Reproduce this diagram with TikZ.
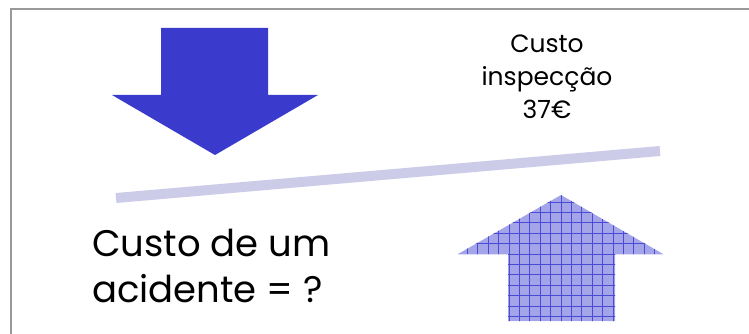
\documentclass[tikz,border=0pt]{standalone}
\usepackage{fontspec}
\setmainfont{Poppins}
\definecolor{darkarrow}{HTML}{3A3ACC}
\definecolor{lightarrow}{HTML}{A4A4E8}
\definecolor{gridline}{HTML}{4A4AD6}
\definecolor{barcol}{HTML}{CCCCE8}
\definecolor{framecol}{HTML}{999999}
\tikzset{
  frameline/.style={draw=framecol, line width=2pt},
  bigtext/.style={font=\fontsize{37}{46}\selectfont, align=left, inner sep=0pt, anchor=north west},
  smalltext/.style={font=\fontsize{25}{33}\selectfont, align=center, inner sep=0pt, anchor=north},
}
\begin{document}
\begin{tikzpicture}[x=1pt,y=-1pt]
\useasboundingbox (0,0) rectangle (749,334);
% frame
\draw[frameline] (11,334) -- (11,9) -- (749,9);
% down arrow
\fill[darkarrow] (161,28) -- (268,28) -- (268,95) -- (318,95) -- (215,155) -- (112,95) -- (161,95) -- cycle;
% bar
\draw[barcol, line width=10pt] (116,198) -- (660,151);
% up arrow
\begin{scope}
\path[clip] (561,195) -- (663,254) -- (615,254) -- (615,321) -- (508,321) -- (508,254) -- (458,254) -- cycle;
\fill[lightarrow] (450,190) rectangle (670,330);
\foreach \i in {-11,...,11} {
  \draw[gridline, line width=0.8pt] (561+\i*10.4,190) -- (561+\i*10.4,330);
}
\foreach \j in {-6,...,7} {
  \draw[gridline, line width=0.8pt] (450,254+\j*10.4) -- (670,254+\j*10.4);
}
\end{scope}
% texts
\node[smalltext] (cost) at (547,35) {Custo\\inspecção\\37€};
\node[bigtext] (acc) at (92,229) {Custo de um\\acidente = ?};
\end{tikzpicture}
\end{document}
